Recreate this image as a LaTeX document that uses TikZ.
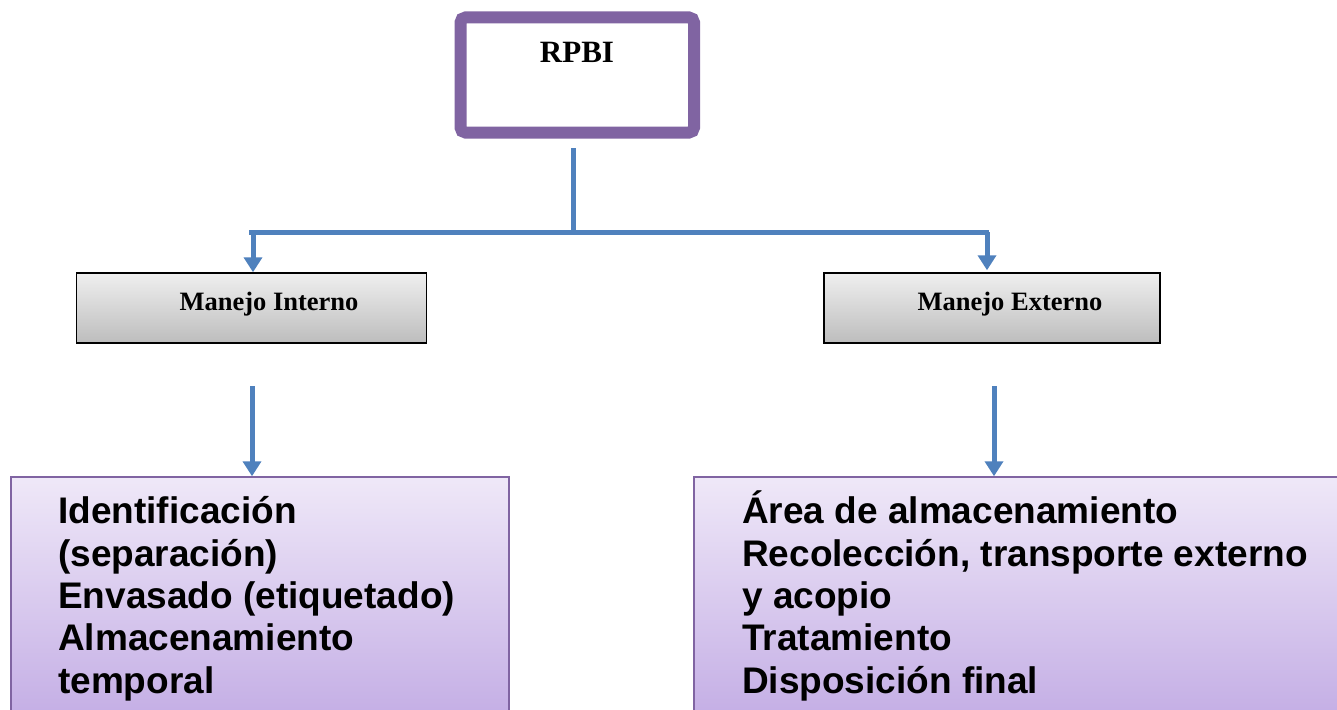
\documentclass[tikz,border=0pt]{standalone}
\usepackage{fontspec}
\setmainfont{Liberation Serif}
\newfontfamily\arialfont{Liberation Sans}
\usetikzlibrary{arrows.meta}
\definecolor{connblue}{HTML}{4F81BD}
\definecolor{boxpurple}{HTML}{8064A2}
\definecolor{graytop}{HTML}{EFEFEF}
\definecolor{graybot}{HTML}{BDBDBD}
\definecolor{purtop}{HTML}{EFE8F8}
\definecolor{purbot}{HTML}{C4AEE5}
\tikzset{
  conn/.style={draw=connblue, line width=5pt},
  connarrow/.style={conn, -{Triangle[width=18pt,length=15pt]}},
  topbox/.style={draw=boxpurple, line width=12pt, rounded corners=5pt, fill=white, minimum width=233.5pt, minimum height=115pt, inner sep=0pt},
  graybox/.style={draw=black, line width=1.5pt, top color=graytop, bottom color=graybot, minimum height=70pt, inner sep=0pt},
  graytext/.style={font=\bfseries\fontsize{26.5}{30}\selectfont, inner sep=0pt},
  purbox/.style={draw=boxpurple, line width=1.5pt, top color=purtop, bottom color=purbot, minimum height=240pt, inner sep=0pt},
  purtext/.style={font=\arialfont\bfseries\fontsize{37}{42.3}\selectfont, align=left, inner sep=0pt, anchor=base west},
}
\begin{document}
\begin{tikzpicture}[x=1pt,y=-1pt]
\clip (0,0) rectangle (1337,709);
\fill[white] (0,0) rectangle (1337,709);
% top box
\node[topbox] (top) at (577.25,75) {};
\node[font=\bfseries\fontsize{31}{36}\selectfont, inner sep=0pt, anchor=base] (toptext) at (577,63) {RPBI};
% gray boxes
\node[graybox, minimum width=350pt] (mi) at (251.5,308) {};
\node[graytext, anchor=base] (mitext) at (269,310) {Manejo Interno};
\node[graybox, minimum width=336pt] (me) at (992,308) {};
\node[graytext, anchor=base] (metext) at (1010,310) {Manejo Externo};
% purple boxes
\node[purbox, minimum width=498pt] (ib) at (260,597) {};
\node[purtext] (ibtext) at (58,693) {Identificación\\(separación)\\Envasado (etiquetado)\\Almacenamiento\\temporal};
\node[purbox, minimum width=660pt] (eb) at (1024,597) {};
\node[purtext] (ebtext) at (742,693) {Área de almacenamiento\\Recolección, transporte externo\\y acopio\\Tratamiento\\Disposición final};
% connectors
\coordinate (hub) at (573,232);
\coordinate (hl) at (249,232);
\coordinate (hr) at (989,232);
\coordinate (jl) at (253,232);
\coordinate (jr) at (987,232);
\coordinate (la) at (252,386);
\coordinate (ra) at (994,386);
\draw[conn] ([xshift=-4.25pt,yshift=-9.5pt]top.south) -- ([yshift=-2pt]hub);
\draw[conn] (hl) -- (hr);
\draw[connarrow] (jl) -- (jl |- mi.north);
\draw[connarrow] (jr) -- ([yshift=2pt]jr |- me.north);
\draw[connarrow] (la) -- (la |- ib.north);
\draw[connarrow] (ra) -- (ra |- eb.north);
\end{tikzpicture}
\end{document}
